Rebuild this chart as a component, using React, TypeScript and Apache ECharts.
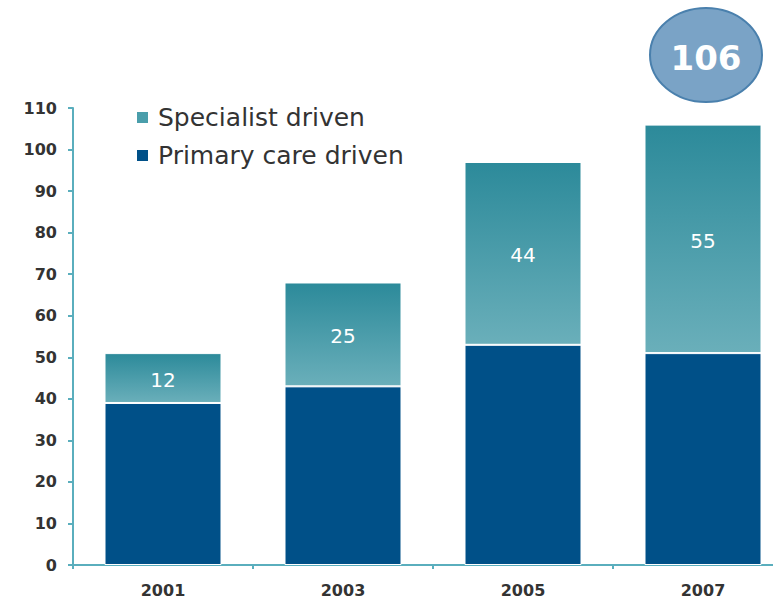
import React, { useEffect, useRef } from "react";
import * as echarts from "echarts";

const years = ["2001", "2003", "2005", "2007"];
const primaryCare = [39, 43, 53, 51];
const specialist = [12, 25, 44, 55];
const yTicks = { min: 0, max: 110, interval: 10 };
const highlightTotal = "106";

export default function App() {
  const ref = useRef<HTMLDivElement>(null);
  useEffect(() => {
    if (!ref.current) return;
    const chart = echarts.init(ref.current, undefined, { renderer: "svg" });
    const font = "DejaVu Sans, Verdana, sans-serif";
    chart.setOption({
      animation: false,
      backgroundColor: "#ffffff",
      grid: { left: 73, top: 108, bottom: 35, right: 7 },
      legend: {
        orient: "vertical",
        left: 130,
        top: 100,
        itemWidth: 13,
        itemHeight: 13,
        itemGap: 13,
        icon: "rect",
        textStyle: { fontFamily: font, fontSize: 25, color: "#333", padding: [0, 0, 0, 4] },
        data: [
          { name: "Specialist driven", itemStyle: { color: "#4a9eab" } },
          { name: "Primary care driven", itemStyle: { color: "#005088" } },
        ],
      },
      xAxis: {
        type: "category",
        data: years,
        axisLine: { lineStyle: { color: "#5aaebd", width: 2 } },
        axisTick: { show: true, length: 4, lineStyle: { color: "#5aaebd", width: 2 } },
        axisLabel: { fontFamily: font, fontSize: 16, fontWeight: "bold", color: "#333", margin: 17 },
      },
      yAxis: {
        type: "value",
        min: yTicks.min,
        max: yTicks.max,
        interval: yTicks.interval,
        splitLine: { show: false },
        axisLine: { show: true, lineStyle: { color: "#5aaebd", width: 2 } },
        axisTick: { show: true, length: 5, lineStyle: { color: "#5aaebd", width: 2 } },
        axisLabel: { fontFamily: font, fontSize: 16, fontWeight: "bold", color: "#333", margin: 16 },
      },
      series: [
        {
          name: "Primary care driven",
          type: "bar",
          stack: "total",
          barWidth: "65%",
          data: primaryCare,
          itemStyle: { color: "#005088", borderColor: "#ffffff", borderWidth: 1 },
        },
        {
          name: "Specialist driven",
          type: "bar",
          stack: "total",
          barWidth: "65%",
          data: specialist,
          itemStyle: {
            color: new echarts.graphic.LinearGradient(0, 0, 0, 1, [
              { offset: 0, color: "#2c8a9a" },
              { offset: 1, color: "#6aafba" },
            ]),
            borderColor: "#ffffff",
            borderWidth: 1,
          },
          label: {
            show: true,
            position: "inside",
            color: "#ffffff",
            fontFamily: font,
            fontSize: 20,
            offset: [0, 2],
          },
        },
      ],
      graphic: [
        {
          type: "ellipse",
          shape: { cx: 706, cy: 55, rx: 56, ry: 47 },
          style: { fill: "#7aa3c6", stroke: "#4a80ad", lineWidth: 2 },
        },
        {
          type: "text",
          x: 706,
          y: 58,
          style: {
            text: highlightTotal,
            fill: "#ffffff",
            font: "bold 34px DejaVu Sans, Verdana, sans-serif",
            textAlign: "center",
            textVerticalAlign: "middle",
          },
        },
      ],
    });
    return () => chart.dispose();
  }, []);
  return (
    <div
      style={{ position: "fixed", left: 0, top: 0, width: 773, height: 600, overflow: "hidden" }}
    >
      <div ref={ref} style={{ width: 800, height: 600 }} />
    </div>
  );
}
